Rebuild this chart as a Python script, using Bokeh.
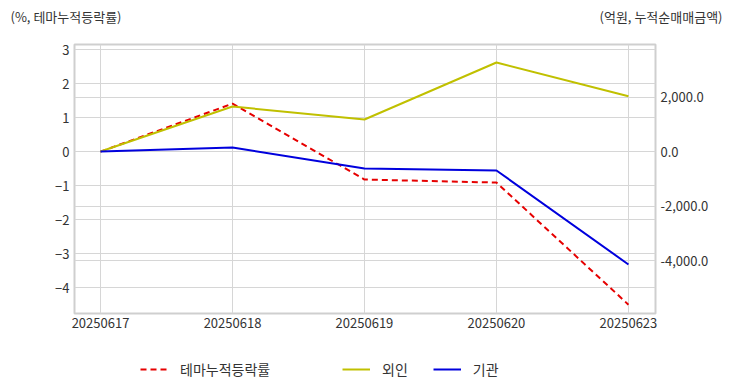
from bokeh.plotting import figure
from bokeh.layouts import column, row
from bokeh.models import (LinearAxis, Range1d, FixedTicker, Grid, Legend, LegendItem,
                          NumeralTickFormatter)
from bokeh.core.properties import value
from bokeh.embed import file_html
from bokeh.resources import INLINE

dates = ["20250617", "20250618", "20250619", "20250620", "20250623"]
theme_pct = [0.0, 1.41, -0.82, -0.91, -4.50]
foreign = [0.0, 1650.0, 1175.0, 3265.0, 2025.0]
institution = [0.0, 145.0, -625.0, -695.0, -4145.0]
left_ticks = [-4, -3, -2, -1, 0, 1, 2, 3]
right_ticks = [-4000, -2000, 0, 2000]
left_title = "(%, 테마누적등락률)"
right_title = "(억원, 누적순매매금액)"
series_names = ["테마누적등락률", "외인", "기관"]

FONT = "Noto Sans CJK KR"
TXT = "#333333"
GRID = "#d6d6d6"
RED, OLIVE, BLUE = "#e60000", "#c0c000", "#0000dd"

W = 732
BL, BR, BT, BB = 74, 77, 8, 32

# ---- header with axis unit titles (own row so its frame spans the full width) ----
head = figure(width=W, height=36, output_backend="svg", toolbar_location=None,
              x_range=Range1d(0, W), y_range=Range1d(36, 0),
              x_axis_location=None, y_axis_location=None,
              min_border=0, outline_line_color=None)
head.grid.visible = False
head.text(x=[10], y=[16], text=[left_title], text_font=value(FONT), text_font_size="13px",
          text_color=TXT, text_baseline="middle", text_align="left")
head.text(x=[722], y=[16], text=[right_title], text_font=value(FONT), text_font_size="13px",
          text_color=TXT, text_baseline="middle", text_align="right")

# ---- main chart ----
xs = list(range(len(dates)))
p = figure(width=W, height=309, output_backend="svg", toolbar_location=None,
           x_range=Range1d(-0.197, 4.205), y_range=Range1d(-4.76, 3.15),
           min_border_left=BL, min_border_right=BR, min_border_top=BT, min_border_bottom=BB)
p.extra_y_ranges = {"right": Range1d(-5945, 3927)}
p.outline_line_color = "#cfcfcf"
p.outline_line_width = 2

p.xaxis.ticker = FixedTicker(ticks=xs)
p.xaxis.major_label_overrides = {i: d for i, d in enumerate(dates)}
p.yaxis.ticker = FixedTicker(ticks=left_ticks)
ra = LinearAxis(y_range_name="right", ticker=FixedTicker(ticks=right_ticks),
                formatter=NumeralTickFormatter(format="0,0.0"))
p.add_layout(ra, "right")
for ax in [p.xaxis[0], p.yaxis[0], ra]:
    ax.axis_line_color = None
    ax.major_tick_line_color = None
    ax.minor_tick_line_color = None
    ax.major_tick_out = 0
    ax.major_tick_in = 0
    ax.major_label_text_font = FONT
    ax.major_label_text_font_size = "13px"
    ax.major_label_text_color = TXT
p.xaxis.major_label_standoff = 4
p.yaxis.major_label_standoff = 5
ra.major_label_standoff = 5

p.xgrid.grid_line_color = GRID
p.ygrid.grid_line_color = GRID
p.add_layout(Grid(dimension=1, ticker=ra.ticker, y_range_name="right", grid_line_color=GRID))

p.line(xs, theme_pct, line_color=RED, line_width=2, line_dash="6 4")
p.line(xs, foreign, line_color=OLIVE, line_width=2, y_range_name="right")
p.line(xs, institution, line_color=BLUE, line_width=2, y_range_name="right")

# ---- legend strip ----
lg = figure(width=W, height=47, output_backend="svg", toolbar_location=None,
            x_range=Range1d(0, 1), y_range=Range1d(0, 47),
            x_axis_location=None, y_axis_location=None,
            min_border_left=BL, min_border_right=BR, min_border_top=0, min_border_bottom=0,
            outline_line_color=None)
lg.grid.visible = False
lg.extra_x_ranges = {"off": Range1d(1000, 1001)}
e1 = lg.line(xs, theme_pct, line_color=RED, line_width=2, line_dash="6 4", x_range_name="off")
e2 = lg.line(xs, foreign, line_color=OLIVE, line_width=2, x_range_name="off")
e3 = lg.line(xs, institution, line_color=BLUE, line_width=2, x_range_name="off")
common = dict(orientation="horizontal", border_line_color=None, background_fill_alpha=0,
              label_text_font=FONT, label_text_font_size="14px", label_text_color=TXT,
              glyph_width=28, glyph_height=20, label_height=20, label_standoff=12,
              padding=0, margin=0)
lg.add_layout(Legend(items=[LegendItem(label=series_names[0], renderers=[e1])],
                     location=(140 - BL, 13), spacing=0, **common))
lg.add_layout(Legend(items=[LegendItem(label=series_names[1], renderers=[e2]),
                            LegendItem(label=series_names[2], renderers=[e3])],
                     location=(342 - BL, 13), spacing=25, **common))

layout = column(row(head), column(p, lg, spacing=0), spacing=0)
open("out.html", "w").write(file_html(layout, INLINE))
